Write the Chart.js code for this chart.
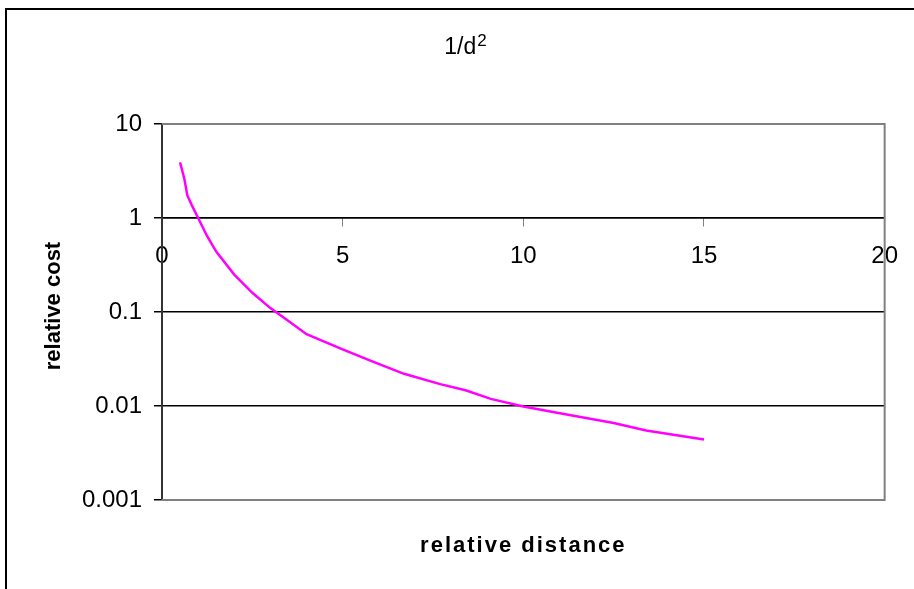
<!DOCTYPE html>
<html lang="en">
<head>
  <meta charset="UTF-8" />
  <title>1/d2</title>
  <script src="https://cdn.jsdelivr.net/npm/chart.js"></script>
  <style>
    body {
      margin: 0;
      background: #fff;
    }
    canvas {
      display: block;
    }
  </style>
</head>
<body>
  <canvas id="chart" width="914" height="589"></canvas>

  <script>
    // values
    const distances = [0.5, 0.62, 0.7, 0.82, 1, 1.25, 1.5, 2, 2.5, 3, 3.5, 4, 5, 5.8, 6.7, 7.7, 8.4, 9.1, 10, 11.2, 12.5, 13.4, 15];
    const costs = [3.9, 2.6, 1.75, 1.38, 1, 0.64, 0.44, 0.25, 0.16, 0.11, 0.08, 0.058, 0.04, 0.03, 0.022, 0.0171, 0.0147, 0.0119, 0.0099, 0.0081, 0.0066, 0.0055, 0.0044];
    const yTicks = [0.001, 0.01, 0.1, 1, 10];
    const yTickLabels = ['0.001', '0.01', '0.1', '1', '10'];
    const titleMain = '1/d';
    const titleSup = '2';
    const xTitle = 'relative distance';
    const yTitle = 'relative cost';

    const FONT = '"Liberation Sans", Arial, sans-serif';

    // frame, plot border and text that Excel puts around the plot
    const decorations = {
      id: 'decorations',
      beforeDraw(chart) {
        const ctx = chart.ctx;
        ctx.save();
        ctx.strokeStyle = '#000';
        ctx.lineWidth = 2;
        ctx.beginPath();
        ctx.moveTo(6, chart.height);
        ctx.lineTo(6, 9);
        ctx.lineTo(chart.width, 9);
        ctx.stroke();
        ctx.restore();
      },
      beforeDatasetsDraw(chart) {
        const { ctx, chartArea: a } = chart;
        ctx.save();
        ctx.strokeStyle = '#808080';
        ctx.lineWidth = 2;
        ctx.beginPath();
        ctx.moveTo(a.left, a.top);
        ctx.lineTo(a.right, a.top);
        ctx.lineTo(a.right, a.bottom);
        ctx.lineTo(a.left, a.bottom);
        ctx.stroke();
        ctx.restore();
      },
      afterDraw(chart) {
        const { ctx, chartArea: a } = chart;
        ctx.save();
        ctx.fillStyle = '#000';
        ctx.textBaseline = 'alphabetic';

        // title with superscript
        ctx.font = '23px ' + FONT;
        const w1 = ctx.measureText(titleMain).width;
        ctx.font = '17px ' + FONT;
        const w2 = ctx.measureText(titleSup).width;
        const tx = 465 - (w1 + w2) / 2;
        ctx.textAlign = 'left';
        ctx.font = '23px ' + FONT;
        ctx.fillText(titleMain, tx, 54);
        ctx.font = '17px ' + FONT;
        ctx.fillText(titleSup, tx + w1 + 1, 46);

        // x axis title
        ctx.font = 'bold 22px ' + FONT;
        ctx.letterSpacing = '2px';
        ctx.textAlign = 'center';
        ctx.fillText(xTitle, (a.left + a.right) / 2, 552);
        ctx.letterSpacing = '0px';

        // y axis title
        ctx.translate(60, 306);
        ctx.rotate(-Math.PI / 2);
        ctx.fillText(yTitle, 0, 0);
        ctx.restore();
      }
    };

    const ctx = document.getElementById('chart').getContext('2d');
    new Chart(ctx, {
      type: 'line',
      data: {
        datasets: [{
          data: distances.map((d, i) => ({ x: d, y: costs[i] })),
          borderColor: '#ff00ff',
          borderWidth: 2.5,
          pointRadius: 0,
          fill: false,
          tension: 0
        }]
      },
      options: {
        responsive: false,
        animation: false,
        devicePixelRatio: 1,
        layout: { padding: { left: 0, top: 124, right: 28, bottom: 89 } },
        plugins: {
          legend: { display: false },
          title: { display: false },
          tooltip: { enabled: false }
        },
        scales: {
          x: {
            type: 'linear',
            position: { y: 1 },
            min: 0,
            max: 20,
            ticks: {
              stepSize: 5,
              padding: 16,
              color: '#000',
              font: { family: FONT, size: 24 }
            },
            grid: {
              drawOnChartArea: false,
              drawTicks: true,
              tickLength: 8,
              tickColor: '#808080'
            },
            border: { display: true, color: '#000', width: 1.5 }
          },
          y: {
            type: 'logarithmic',
            min: 0.001,
            max: 10,
            afterBuildTicks(scale) {
              scale.ticks = yTicks.map(v => ({ value: v }));
            },
            afterFit(scale) {
              scale.width = 162;
            },
            ticks: {
              padding: 12,
              color: '#000',
              font: { family: FONT, size: 24 },
              callback: (value, index) => yTickLabels[index]
            },
            grid: {
              color: c => (c.index === 0 || c.index === yTicks.length - 1) ? '#808080' : '#000',
              lineWidth: 1.5,
              tickLength: 8,
              tickColor: '#000'
            },
            border: { display: true, color: '#333', width: 2 }
          }
        }
      },
      plugins: [decorations]
    });
  </script>
</body>
</html>
